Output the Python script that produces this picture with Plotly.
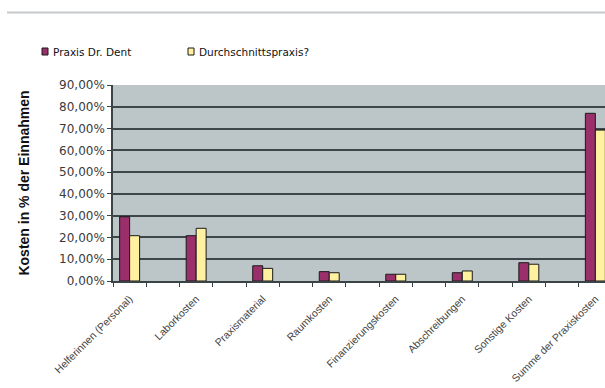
import numpy as np
import plotly.graph_objects as go

categories = ["Helferinnen (Personal)", "Laborkosten", "Praxismaterial", "Raumkosten",
              "Finanzierungskosten", "Abschreibungen", "Sonstige Kosten", "Summe der Praxiskosten"]
praxis_dent = [29.5, 20.8, 7.0, 4.3, 3.1, 3.8, 8.4, 77.0]
durchschnitt = [20.8, 24.2, 5.8, 3.8, 3.1, 4.6, 7.7, 69.3]
series_names = ["Praxis Dr. Dent", "Durchschnittspraxis?"]
y_ticks = list(range(0, 91, 10))
y_ticktext = [f"{v},00%" for v in y_ticks]

W, H = 605, 388
L, T, B, R = 113, 85, 107, 0
pw, ph = W - L - R, H - T - B

def px_x(x):
    return (x - L) / pw

def px_y(y):
    return (H - B - y) / ph

# categories sit in every other slot (blank slots between them)
xpos = np.arange(len(categories)) * 2

colors = ["#9a2f6c", "#fff1a0"]
fig = go.Figure()
for name, vals, col, off, ya in [(series_names[0], praxis_dent, colors[0], -0.3, "y"),
                                 (series_names[1], durchschnitt, colors[1], 0.0, "y2")]:
    fig.add_trace(go.Bar(x=xpos, y=vals, name=name, width=0.3, offset=off, yaxis=ya,
                         marker=dict(color=col, line=dict(color="#1a1a1a", width=1)),
                         showlegend=False))

fig.update_layout(
    width=W, height=H,
    margin=dict(l=L, r=R, t=T, b=B, autoexpand=False),
    paper_bgcolor="white",
    plot_bgcolor="#bcc6c8",
    barmode="overlay",
    font=dict(family="DejaVu Sans", color="#333"),
)
fig.update_xaxes(
    range=[-0.5, 14.29],
    tickmode="array", tickvals=xpos, ticktext=categories,
    tickangle=-45, ticks="outside", ticklen=6, tickcolor="rgba(0,0,0,0)",
    tickfont=dict(family="Liberation Sans", size=10.5, color="#444"),
    showgrid=False, zeroline=False,
    showline=True, linecolor="#3a4446", linewidth=1.5,
    minor=dict(tickmode="linear", tick0=-0.5, dtick=1, ticks="outside",
               ticklen=4, tickcolor="#3a4446", tickwidth=1, showgrid=False),
)
fig.update_layout(
    yaxis=dict(
        range=[0, 90],
        tickmode="array", tickvals=y_ticks, ticktext=y_ticktext,
        ticks="outside", ticklen=4, tickcolor="#3a4446", tickwidth=1,
        tickfont=dict(family="DejaVu Sans", size=12, color="#3a3a3a"),
        showgrid=False, zeroline=False,
        showline=True, linecolor="#3a4446", linewidth=1.5,
        title=dict(text="<b>Kosten in % der Einnahmen</b>", standoff=26,
                   font=dict(family="Liberation Sans", size=14, color="#111")),
        automargin=False,
    ),
    yaxis2=dict(
        overlaying="y", side="left", range=[0, 90],
        tickmode="array", tickvals=y_ticks[1:-1],
        showticklabels=False, ticks="",
        showgrid=True, gridcolor="#3d4649", gridwidth=2,
        zeroline=False, showline=False,
    ),
)

# separator line at top
fig.add_shape(type="line", xref="paper", yref="paper",
              x0=px_x(7), x1=px_x(605), y0=px_y(12.5), y1=px_y(12.5),
              line=dict(color="#c6cacd", width=2))

# custom legend
leg = [(42, 48, 51, series_names[0], colors[0]), (188, 194, 197, series_names[1], colors[1])]
for sx0, sx1, tx, name, col in leg:
    fig.add_shape(type="rect", xref="paper", yref="paper",
                  x0=px_x(sx0), x1=px_x(sx1), y0=px_y(55), y1=px_y(48),
                  fillcolor=col, line=dict(color="#1a1a1a", width=1))
    fig.add_annotation(xref="paper", yref="paper", x=px_x(tx), y=px_y(52),
                       xanchor="left", yanchor="middle", showarrow=False,
                       text=name, font=dict(family="DejaVu Sans", size=10.5, color="#111"))

fig.write_html("out.html")
